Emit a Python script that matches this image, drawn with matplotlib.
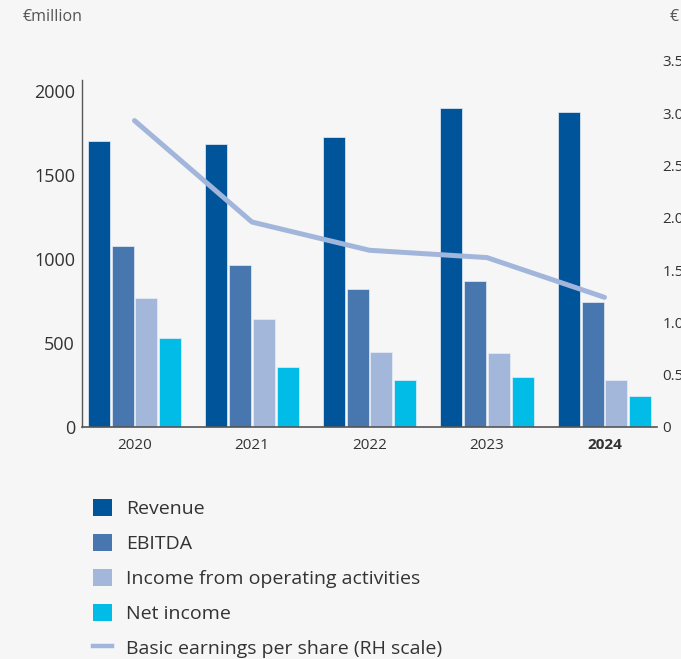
import matplotlib
matplotlib.use("Agg")
import matplotlib.pyplot as plt
from matplotlib.patches import Patch
from matplotlib.lines import Line2D
import numpy as np

plt.rcParams['font.family'] = ['Open Sans', 'DejaVu Sans']

years = ["2020", "2021", "2022", "2023", "2024"]
revenue = [1702, 1685, 1726, 1899, 1875]
ebitda = [1077, 964, 821, 869, 744]
income_op = [768, 643, 446, 440, 280]
net_income = [530, 357, 282, 295, 185]
eps = [2.93, 1.96, 1.69, 1.62, 1.24]

series_labels = ["Revenue", "EBITDA", "Income from operating activities", "Net income"]
line_label = "Basic earnings per share (RH scale)"
colors = ["#00559a", "#4876ae", "#a3b7da", "#00bce6"]
line_color = "#a2b6dc"
text_color = "#333333"
bg = "#f6f6f6"

W, H = 681, 659
fig = plt.figure(figsize=(W / 100, H / 100), dpi=100, facecolor=bg)
ax = fig.add_axes([82 / W, (H - 427) / H, (657 - 82) / W, (427 - 61) / H])
ax.set_facecolor("none")

x = np.arange(len(years))
bw = 0.187
step = 0.203
for i, (vals, c) in enumerate(zip([revenue, ebitda, income_op, net_income], colors)):
    ax.bar(x + (i - 1.5) * step, vals, width=bw, color=c, edgecolor="#e8eef6",
           linewidth=0.5, zorder=2)

ax.set_xlim(-0.447, 4.447)
ax.set_ylim(0, 2178)
ax.set_yticks([0, 500, 1000, 1500, 2000])
ax.set_yticklabels(["0", "500", "1000", "1500", "2000"], fontsize=13, color=text_color)
ax.tick_params(axis="y", length=0, pad=5)
ax.set_xticks(x)
ax.set_xticklabels(years, fontsize=11, color=text_color)
ax.tick_params(axis="x", length=0, pad=8)
ax.get_xticklabels()[-1].set_fontweight("bold")
for s in ["top", "right"]:
    ax.spines[s].set_visible(False)
ax.spines["left"].set_bounds(0, 2065)
ax.spines["left"].set_color("#555555")
ax.spines["bottom"].set_color("#555555")
ax.spines["left"].set_linewidth(1.0)
ax.spines["bottom"].set_linewidth(1.2)

ax2 = ax.twinx()
ax2.set_facecolor("none")
ax2.plot(x, eps, color=line_color, linewidth=3.6, solid_capstyle="round",
         solid_joinstyle="round", zorder=3)
ax2.set_ylim(0, 3.5)
ax2.set_yticks([0, 0.5, 1.0, 1.5, 2.0, 2.5, 3.0, 3.5])
ax2.set_yticklabels(["0", "0.5", "1.0", "1.5", "2.0", "2.5", "3.0", "3.5"],
                    fontsize=11, color=text_color)
ax2.tick_params(axis="y", length=0, pad=4)
for s in ["top", "right", "left", "bottom"]:
    ax2.spines[s].set_visible(False)

fig.text(23 / W, 1 - 17 / H, "€million", fontsize=11.5, color="#555555", va="center", ha="left")
fig.text(670 / W, 1 - 17 / H, "€", fontsize=11.5, color="#555555", va="center", ha="left")

handles = [Patch(facecolor=c, edgecolor="none") for c in colors]
handles.append(Line2D([0], [0], color=line_color, linewidth=3.2))
leg = fig.legend(handles, series_labels + [line_label], loc="upper left",
                 bbox_to_anchor=(85 / W, 1 - 491 / H), frameon=False,
                 fontsize=14, handlelength=1.0, handleheight=1.0,
                 handletextpad=0.7, labelspacing=0.80, borderaxespad=0)
for t in leg.get_texts():
    t.set_color(text_color)

fig.savefig("out.png", dpi=100, facecolor=bg)
